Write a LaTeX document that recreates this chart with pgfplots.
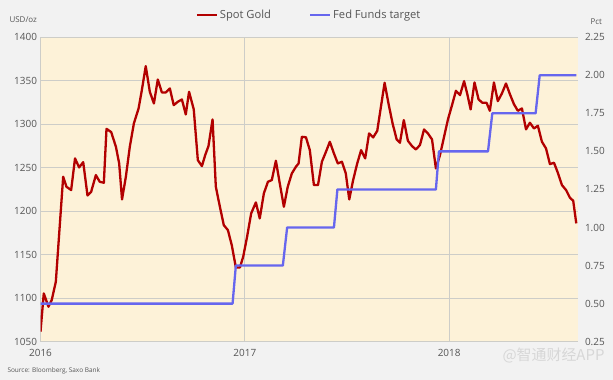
\documentclass[border=0pt]{standalone}
\usepackage{pgfplots}
\pgfplotsset{compat=1.18}
\usepackage{fontspec}
\setmainfont{Open Sans}
\newfontfamily\cjk{Noto Sans CJK SC}
\definecolor{pagebg}{RGB}{242,242,242}
\definecolor{cream}{RGB}{253,242,216}
\definecolor{gridgray}{RGB}{205,205,200}
\definecolor{goldred}{RGB}{178,0,0}
\definecolor{fedblue}{RGB}{102,102,238}
\definecolor{txt}{RGB}{85,85,85}
\begin{document}
\begin{tikzpicture}
\fill[pagebg] (0bp,0bp) rectangle (613bp,380bp);
\begin{axis}[
  at={(40.5bp,38.3bp)}, anchor=south west,
  scale only axis, width=537bp, height=304.5bp,
  xmin=2016, xmax=2018.628, ymin=1050, ymax=1400,
  ytick={1050,1100,...,1400},
  xtick={2016,2017,2018}, xticklabels={2016,2017,2018},
  grid=major, major grid style={draw=gridgray, line width=0.8bp},
  axis line style={draw=none}, tick style={draw=none},
  axis background/.style={fill=cream},
  /pgf/number format/1000 sep={},
  /pgf/number format/assume math mode=true,
  ticklabel style={font=\fontsize{10}{12}\selectfont, text=txt},
  yticklabel style={xshift=0bp},
  xticklabel style={yshift=-4bp},
]
\addplot[goldred, line width=2.3bp, line join=round] coordinates {
(2016.000,1061.5) (2016.016,1105.5) (2016.039,1090.2) (2016.055,1097.9) (2016.075,1118.9)
(2016.111,1239.6) (2016.127,1228.1) (2016.150,1224.3) (2016.169,1260.7) (2016.189,1250.3)
(2016.209,1256.4) (2016.230,1218.1) (2016.248,1222.4) (2016.271,1241.5) (2016.290,1233.8)
(2016.310,1232.7) (2016.323,1294.7) (2016.346,1290.9) (2016.369,1274.1) (2016.385,1254.9)
(2016.399,1213.5) (2016.418,1240.0) (2016.437,1274.0) (2016.457,1300.9) (2016.480,1318.1)
(2016.496,1339.2) (2016.515,1366.7) (2016.535,1337.3) (2016.555,1323.8) (2016.574,1351.4)
(2016.594,1336.5) (2016.613,1336.5) (2016.633,1341.1) (2016.652,1321.9) (2016.672,1325.8)
(2016.692,1328.4) (2016.711,1311.2) (2016.727,1337.3) (2016.750,1317.0) (2016.770,1258.7)
(2016.790,1251.8) (2016.806,1264.5) (2016.822,1274.8) (2016.842,1305.5) (2016.858,1228.1)
(2016.878,1205.0) (2016.897,1184.0) (2016.917,1178.3) (2016.936,1161.0) (2016.956,1135.4)
(2016.976,1135.4) (2016.992,1147.7) (2017.011,1170.6) (2017.031,1197.5) (2017.054,1210.1)
(2017.073,1191.7) (2017.093,1220.4) (2017.113,1233.8) (2017.132,1235.8) (2017.152,1258.0)
(2017.171,1231.9) (2017.191,1205.1) (2017.210,1228.1) (2017.230,1243.4) (2017.250,1251.1)
(2017.263,1254.9) (2017.279,1285.5) (2017.299,1285.0) (2017.318,1270.2) (2017.338,1230.0)
(2017.358,1230.0) (2017.377,1256.8) (2017.397,1268.3) (2017.416,1279.8) (2017.436,1266.4)
(2017.455,1254.9) (2017.475,1256.8) (2017.494,1243.4) (2017.511,1213.5) (2017.530,1235.8)
(2017.550,1254.9) (2017.569,1270.2) (2017.589,1260.7) (2017.608,1289.4) (2017.628,1284.8)
(2017.648,1292.4) (2017.684,1347.6) (2017.703,1323.8) (2017.723,1300.9) (2017.743,1282.5)
(2017.759,1278.7) (2017.778,1304.7) (2017.798,1281.0) (2017.818,1274.8) (2017.837,1271.0)
(2017.857,1276.0) (2017.877,1294.0) (2017.896,1289.4) (2017.916,1282.5) (2017.935,1249.2)
(2017.955,1264.5) (2017.975,1285.5) (2017.994,1305.5) (2018.014,1321.9) (2018.033,1338.4)
(2018.053,1333.4) (2018.073,1349.5) (2018.088,1335.3) (2018.105,1317.0) (2018.124,1348.0)
(2018.144,1328.4) (2018.163,1324.6) (2018.183,1324.6) (2018.199,1315.4) (2018.219,1348.0)
(2018.238,1326.5) (2018.258,1335.3) (2018.278,1346.8) (2018.297,1334.6) (2018.317,1323.0)
(2018.336,1315.4) (2018.356,1318.1) (2018.376,1294.0) (2018.395,1301.7) (2018.415,1295.1)
(2018.434,1298.2) (2018.454,1279.8) (2018.474,1272.1) (2018.493,1254.1) (2018.513,1255.7)
(2018.533,1243.4) (2018.552,1230.0) (2018.572,1224.3) (2018.591,1215.5) (2018.607,1212.0)
(2018.622,1186.0)
};
\end{axis}
\begin{axis}[
  at={(40.5bp,38.3bp)}, anchor=south west,
  scale only axis, width=537bp, height=304.5bp,
  xmin=2016, xmax=2018.628, ymin=0.25, ymax=2.25,
  ytick={0.25,0.5,...,2.25},
  axis y line*=right, hide x axis,
  axis line style={draw=none}, tick style={draw=none},
  /pgf/number format/.cd, fixed, fixed zerofill, precision=2, assume math mode=true, /pgfplots/.cd,
  ticklabel style={font=\fontsize{10}{12}\selectfont, text=txt},
  yticklabel style={xshift=4bp},
  legend style={at={(0.5,1.072)}, anchor=center, draw=none, fill=none,
    font=\fontsize{11.2}{13}\selectfont, text=txt,
    /tikz/every even column/.append style={column sep=36bp}},
  legend columns=2,
  legend image code/.code={\draw[#1] (0bp,0bp) -- (20bp,0bp);},
]
\addlegendimage{goldred, line width=2.3bp}
\addlegendentry{Spot Gold}
\addplot[fedblue, line width=2.3bp, line join=round] coordinates {
(2016.000,0.50) (2016.940,0.50) (2016.956,0.75) (2017.186,0.75) (2017.207,1.00)
(2017.436,1.00) (2017.453,1.25) (2017.935,1.25) (2017.950,1.50) (2018.190,1.50)
(2018.211,1.75) (2018.423,1.75) (2018.443,2.00) (2018.622,2.00)
};
\addlegendentry{Fed Funds target}
\end{axis}
\node[anchor=west, text=txt, font=\fontsize{8}{10}\selectfont] at (6bp,360bp) {USD/oz};
\node[anchor=west, text=txt, font=\fontsize{8}{10}\selectfont] at (587bp,358bp) {Pct};
\node[anchor=west, text=txt, font=\fontsize{6.5}{8}\selectfont] at (4bp,9bp) {Source: Bloomberg, Saxo Bank};
\node[anchor=east, text={rgb,255:red,215;green,215;blue,215}, font=\cjk\fontsize{15}{17}\selectfont] at (608bp,25bp) {@智通财经APP};
\pgfresetboundingbox
\path[use as bounding box] (0bp,0bp) rectangle (613bp,380bp);
\end{tikzpicture}
\end{document}
